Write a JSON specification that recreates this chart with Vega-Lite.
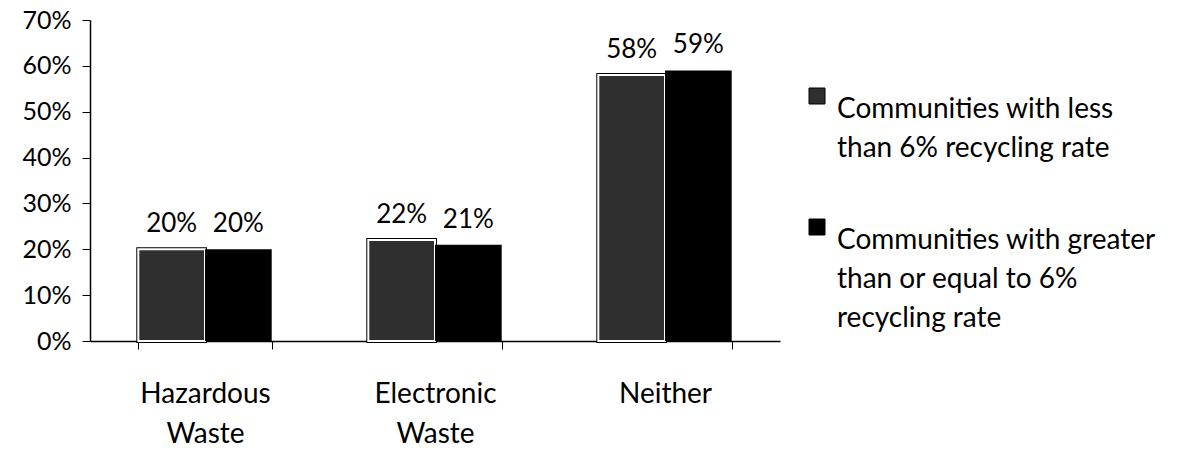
{
  "$schema": "https://vega.github.io/schema/vega-lite/v6.json",
  "width": 690,
  "height": 321,
  "autosize": "none",
  "padding": {"left": 90, "top": 20, "right": 400, "bottom": 113},
  "background": "white",
  "config": {
    "font": "Lato",
    "view": {"stroke": null},
    "style": {"guide-label": {"lineHeight": 39}},
    "axis": {"grid": false, "domainColor": "black", "tickColor": "black", "labelColor": "black", "labelFont": "Lato"}
  },
  "data": {
    "values": [
      {"category": "Hazardous Waste", "series": "Communities with less than 6% recycling rate", "value": 0.20},
      {"category": "Hazardous Waste", "series": "Communities with greater than or equal to 6% recycling rate", "value": 0.20},
      {"category": "Electronic Waste", "series": "Communities with less than 6% recycling rate", "value": 0.22},
      {"category": "Electronic Waste", "series": "Communities with greater than or equal to 6% recycling rate", "value": 0.21},
      {"category": "Neither", "series": "Communities with less than 6% recycling rate", "value": 0.58},
      {"category": "Neither", "series": "Communities with greater than or equal to 6% recycling rate", "value": 0.59}
    ]
  },
  "encoding": {
    "x": {
      "field": "category", "type": "nominal", "sort": null,
      "scale": {"paddingInner": 0.42, "paddingOuter": 0.21},
      "axis": {"title": null, "labelAngle": 0, "labelFontSize": 28, "labelPadding": 31, "labelLineHeight": 40,
               "labelExpr": "split(datum.label, ' ')", "tickBand": "extent", "tickSize": 8, "domainWidth": 1.5}
    },
    "xOffset": {"field": "series", "type": "nominal", "sort": null},
    "y": {
      "field": "value", "type": "quantitative",
      "scale": {"domain": [0, 0.7], "nice": false},
      "axis": {"title": null, "format": ".0%", "values": [0,0.1,0.2,0.3,0.4,0.5,0.6,0.7],
               "labelOverlap": false, "labelFontSize": 25, "tickSize": 8, "labelPadding": 11, "domainWidth": 1.5}
    }
  },
  "layer": [
    {
      "transform": [{"filter": "datum.series == 'Communities with less than 6% recycling rate'"}],
      "mark": {"type": "bar", "fill": "black", "stroke": "black", "strokeWidth": 4}
    },
    {
      "mark": {"type": "bar"},
      "encoding": {
        "color": {
          "field": "series", "type": "nominal", "sort": null,
          "scale": {"range": ["#2f2f2f", "#000000"]},
          "legend": {
            "title": null, "orient": "none", "legendX": 713, "legendY": 62,
            "symbolType": "square", "symbolSize": 256, "symbolStrokeColor": "black", "symbolStrokeWidth": 1,
            "labelFontSize": 28, "labelLimit": 500, "labelBaseline": "top",
            "labelColor": "black", "labelOffset": 6, "rowPadding": 50,
            "labelExpr": "datum.value == 'Communities with less than 6% recycling rate' ? ['Communities with less', 'than 6% recycling rate'] : ['Communities with greater', 'than or equal to 6%', 'recycling rate']"
          }
        },
        "stroke": {
          "condition": {"test": "datum.series == 'Communities with less than 6% recycling rate'", "value": "white"},
          "value": "black"
        },
        "strokeWidth": {
          "condition": {"test": "datum.series == 'Communities with less than 6% recycling rate'", "value": 2},
          "value": 0
        }
      }
    },
    {
      "mark": {"type": "text", "baseline": "alphabetic", "dy": -17, "fontSize": 26, "color": "black"},
      "encoding": {
        "text": {"field": "value", "type": "quantitative", "format": ".0%"}
      }
    }
  ]
}
